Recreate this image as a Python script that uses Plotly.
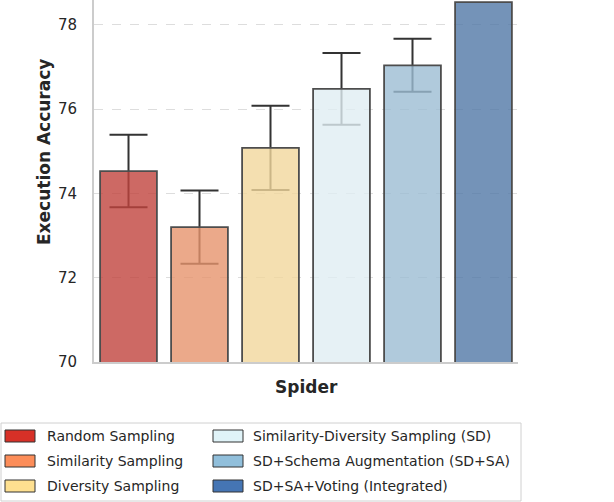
import plotly.graph_objects as go

# data
methods = [
    "Random Sampling",
    "Similarity Sampling",
    "Diversity Sampling",
    "Similarity-Diversity Sampling (SD)",
    "SD+Schema Augmentation (SD+SA)",
    "SD+SA+Voting (Integrated)",
]
accuracy = [74.53, 73.2, 75.08, 76.48, 77.04, 78.54]
errors = [0.86, 0.87, 1.0, 0.85, 0.63, None]
dataset = "Spider"
y_ticks = [70, 72, 74, 76, 78]

# bar fills (drawn at 0.8 alpha) and full legend colours
bar_rgb = [(192, 67, 61), (230, 148, 109), (241, 215, 156), (224, 237, 243), (156, 189, 211), (81, 120, 166)]
legend_colors = ["#d73027", "#fc8d59", "#fee090", "#e0f3f8", "#91bfdb", "#4575b4"]

W, H = 614, 502
L, R, T, B = 94, 96, 0, 140
PW, PH = W - L - R, H - T - B

x_pos = list(range(len(methods)))
err_x = [x for x, e in zip(x_pos, errors) if e is not None]
err_y = [a for a, e in zip(accuracy, errors) if e is not None]
err_v = [e for e in errors if e is not None]

fig = go.Figure()
# error bars sit below the translucent bars, like the matplotlib original
fig.add_trace(go.Bar(
    x=err_x, y=err_y, width=0.8, base=0,
    marker=dict(color="rgba(0,0,0,0)", line=dict(width=0)),
    error_y=dict(type="data", array=err_v, color="#333333", thickness=2, width=19),
    showlegend=False, hoverinfo="skip",
))
fig.add_trace(go.Bar(
    x=x_pos, y=accuracy, width=0.8, base=0,
    marker=dict(
        color=[f"rgba({r},{g},{b},0.8)" for r, g, b in bar_rgb],
        line=dict(color="#4d4d4d", width=1.8),
    ),
    showlegend=False,
))


def px_x(p):
    return (p - L) / PW


def px_y(p):
    return (H - B - p) / PH


# legend box, two columns
shapes = [dict(type="rect", xref="paper", yref="paper",
               x0=px_x(1), x1=px_x(521), y0=px_y(423), y1=px_y(501),
               line=dict(color="#d0d0d0", width=1), fillcolor="white", layer="above")]
annotations = []
for i, (name, col) in enumerate(zip(methods, legend_colors)):
    c, r = divmod(i, 3)
    cy = 436 + r * 25
    sx = 5 + c * 208
    shapes.append(dict(type="rect", xref="paper", yref="paper",
                       x0=px_x(sx), x1=px_x(sx + 30), y0=px_y(cy + 6), y1=px_y(cy - 6),
                       fillcolor=col, line=dict(color="#333333", width=1), layer="above"))
    annotations.append(dict(x=px_x(sx + 40 - c * 2), y=px_y(cy), xref="paper", yref="paper",
                            text=name, showarrow=False, xanchor="left", yanchor="middle",
                            font=dict(size=14, color="#262626")))

annotations.append(dict(x=px_x(44), y=px_y(152), xref="paper", yref="paper",
                        text="<b>Execution Accuracy</b>", textangle=-90, showarrow=False,
                        xanchor="center", yanchor="middle", font=dict(size=17, color="#262626")))
annotations.append(dict(x=0.5, y=px_y(387), xref="paper", yref="paper",
                        text=f"<b>{dataset}</b>", showarrow=False,
                        xanchor="center", yanchor="middle", font=dict(size=17, color="#262626")))

fig.update_layout(
    width=W, height=H,
    margin=dict(l=L, r=R, t=T, b=B),
    barmode="overlay",
    plot_bgcolor="white", paper_bgcolor="white",
    font=dict(family="DejaVu Sans", color="#262626"),
    shapes=shapes, annotations=annotations,
)
fig.update_xaxes(range=[-0.486, 5.486], showticklabels=False, showgrid=False, zeroline=False,
                 showline=True, linecolor="#cccccc", linewidth=2, ticks="")
fig.update_yaxes(range=[70, 78.59], tickvals=y_ticks, showgrid=True, gridcolor="#dddddd",
                 griddash="dash", gridwidth=1, zeroline=False, showline=True,
                 linecolor="#cccccc", linewidth=2, ticks="", ticklabelstandoff=12,
                 tickfont=dict(size=15, color="#262626"))

# drop the browser's default page margin so the figure sits at the window corner
fig.write_html("out.html", config={"displayModeBar": False},
               post_script="document.body.style.margin='0';")
